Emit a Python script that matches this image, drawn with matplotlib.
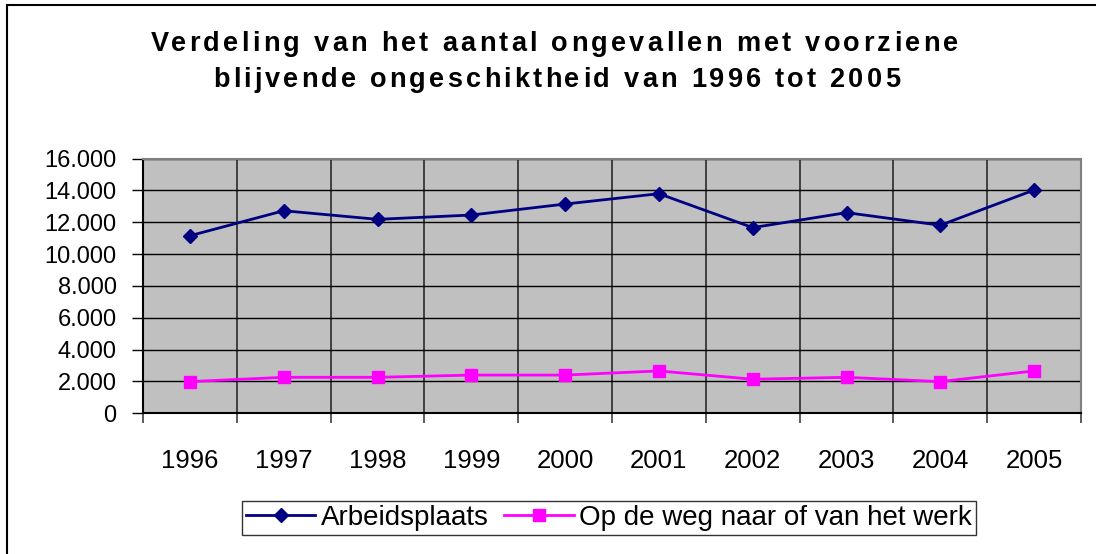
import numpy as np
import matplotlib
matplotlib.use("Agg")
import matplotlib.pyplot as plt
from matplotlib.ticker import FuncFormatter, FixedLocator
from matplotlib.patches import Rectangle

plt.rcParams['font.family'] = ['Liberation Sans', 'DejaVu Sans']

years = ['1996', '1997', '1998', '1999', '2000', '2001', '2002', '2003', '2004', '2005']
arbeidsplaats = [11150, 12720, 12180, 12450, 13140, 13790, 11660, 12600, 11810, 14020]
op_de_weg = [1990, 2260, 2260, 2400, 2400, 2660, 2140, 2260, 1990, 2660]

title_lines = ["Verdeling van het aantal ongevallen met voorziene",
               "blijvende ongeschiktheid van 1996 tot 2005"]

W, H = 1096, 554
fig = plt.figure(figsize=(W / 100, H / 100), dpi=100)
ax = fig.add_axes([143 / W, 1 - 413.3 / H, (1081 - 143) / W, (413.3 - 158.5) / H])

x = np.arange(len(years))
ax.set_facecolor('#C0C0C0')

ax.set_ylim(0, 16000)
ax.set_xlim(-0.5, len(years) - 0.5)
ax.set_yticks(np.arange(0, 16001, 2000))
ax.yaxis.set_major_formatter(FuncFormatter(lambda v, p: f"{int(v):,}".replace(",", ".")))
ax.set_xticks(x)
ax.set_xticklabels(years)
ax.xaxis.set_minor_locator(FixedLocator(np.arange(-0.5, len(years), 1.0)))
ax.grid(axis='y', which='major', color='black', linewidth=1.0, zorder=1)
ax.grid(axis='x', which='minor', color='#404040', linewidth=1.4, zorder=1)
ax.set_axisbelow(True)

ax.tick_params(axis='x', which='major', length=0, labelsize=18.5, pad=26)
ax.tick_params(axis='x', which='minor', length=7, width=1.2, color='#404040')
ax.tick_params(axis='y', length=8, width=1, labelsize=17, pad=11)

for s in ['top', 'right']:
    ax.spines[s].set_color('#808080')
    ax.spines[s].set_linewidth(1.5)
for s in ['left', 'bottom']:
    ax.spines[s].set_color('black')
    ax.spines[s].set_linewidth(1.5)

ax.plot(x, arbeidsplaats, color='#000080', linewidth=2, marker='D', markersize=7.3,
        label='Arbeidsplaats', zorder=3, clip_on=False)
ax.plot(x, op_de_weg, color='#FF00FF', linewidth=2, marker='s', markersize=9,
        label='Op de weg naar of van het werk', zorder=3, clip_on=False)

leg = fig.legend(loc='center', bbox_to_anchor=(609 / W, 1 - 518 / H), ncol=2,
                 fontsize=20, frameon=True, fancybox=False, edgecolor='black',
                 handlelength=2.5, handletextpad=0.2, columnspacing=0.55,
                 borderpad=0.15, borderaxespad=0)
leg.get_frame().set_linewidth(1.0)

# title drawn char by char to get the wide letter spacing of the original
renderer = fig.canvas.get_renderer()
title_fs = 19.5
probe = fig.text(0, 0, '', fontsize=title_fs, fontweight='bold')


def text_w(s):
    probe.set_text(s)
    return probe.get_window_extent(renderer).width


for line, (x0, x1, yb) in zip(title_lines, [(151, 958, 51), (213, 900, 87)]):
    gap = (x1 - x0 - text_w(line)) / (len(line) - 1)
    for i, c in enumerate(line):
        if c == ' ':
            continue
        xi = x0 + (text_w(line[:i] + c) - text_w(c)) + i * gap
        fig.text(xi / W, 1 - yb / H, c, fontsize=title_fs, fontweight='bold',
                 ha='left', va='baseline')
probe.remove()

fig.add_artist(Rectangle((7 / W, -0.1), 1.2, 1.1 - 5 / H, transform=fig.transFigure,
                         fill=False, edgecolor='black', linewidth=1.5))

fig.savefig('out.png', dpi=100)
